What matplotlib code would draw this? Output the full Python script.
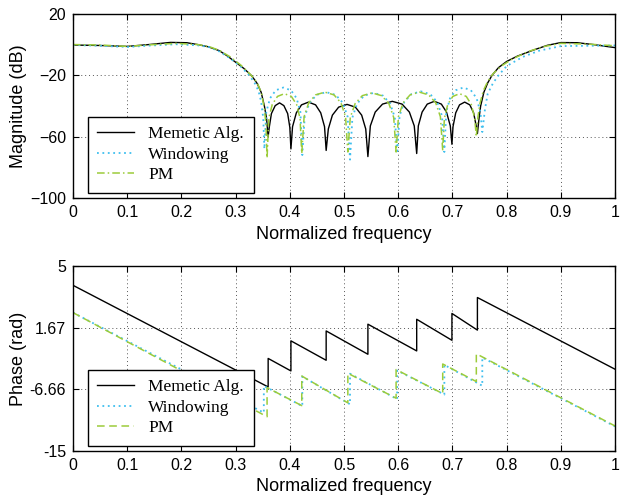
import numpy as np
import matplotlib
matplotlib.use('Agg')
import matplotlib.pyplot as plt

plt.rcParams['font.family'] = ['Liberation Sans', 'DejaVu Sans']

# magnitude response (dB)
ma_f = [0, 0.05, 0.1, 0.14, 0.18, 0.21, 0.23, 0.25, 0.27, 0.285, 0.3, 0.315, 0.33, 0.34, 0.347, 0.353, 0.357,
        0.360, 0.362, 0.366, 0.373, 0.381, 0.389, 0.396, 0.400,
        0.402, 0.405, 0.412, 0.4215, 0.4345, 0.4475, 0.457, 0.464,
        0.467, 0.471, 0.4785, 0.490, 0.5055, 0.521, 0.5325, 0.540,
        0.544, 0.5485, 0.5575, 0.571, 0.589, 0.607, 0.6205, 0.6295,
        0.634, 0.637, 0.644, 0.6535, 0.6665, 0.6795, 0.689, 0.696,
        0.699, 0.701, 0.706, 0.713, 0.7225, 0.732, 0.739, 0.744,
        0.746, 0.749, 0.752, 0.758, 0.765, 0.773, 0.785, 0.80, 0.82, 0.85, 0.875, 0.9, 0.93, 0.96, 1.0]
ma_db = [-0.3, -0.6, -1.2, 0, 1.4, 1.2, 0, -1.5, -4, -7.5, -11.5, -15.5, -20.5, -25.5, -31, -40, -48,
         -60, -54, -45, -39.8, -38, -39.8, -45, -54,
         -68, -53.5, -44.5, -39.3, -37.5, -39.3, -44.5, -53.5,
         -69, -55, -46, -40.8, -39, -40.8, -46, -55,
         -73, -53, -44, -38.8, -37, -38.8, -44, -53,
         -71, -53, -44, -38.8, -37, -38.8, -44, -53,
         -65, -53.5, -44.5, -39.3, -37.5, -39.3, -44.5, -53.5,
         -58, -48, -40, -31, -25, -20, -15, -11, -7.5, -3.5, -0.5, 1.3, 1.2, 0, -2]

win_f = [0, 0.05, 0.1, 0.14, 0.19, 0.23, 0.25, 0.27, 0.29, 0.31, 0.325, 0.335, 0.342, 0.347, 0.351,
         0.353, 0.3565, 0.3635, 0.374, 0.388, 0.402, 0.4125, 0.4195,
         0.423, 0.4274, 0.4362, 0.4494, 0.467, 0.4846, 0.4978, 0.5066,
         0.511, 0.5154, 0.5241, 0.5371, 0.5545, 0.5719, 0.585, 0.5937,
         0.598, 0.6024, 0.6111, 0.6241, 0.6415, 0.6589, 0.672, 0.6807,
         0.685, 0.6885, 0.6955, 0.706, 0.720, 0.734, 0.7445, 0.7515,
         0.755, 0.760, 0.765, 0.775, 0.785, 0.80, 0.83, 0.86, 0.9, 0.95, 1.0]
win_db = [-0.3, -0.8, -1.6, -0.7, 0.2, -0.5, -1.5, -4.5, -9, -14.5, -20, -25, -30, -37, -48,
          -68, -44, -35, -29.8, -28, -29.8, -35, -44,
          -72, -47, -38, -32.8, -31, -32.8, -38, -47,
          -75, -47.5, -38.5, -33.3, -31.5, -33.3, -38.5, -47.5,
          -71, -46.5, -37.5, -32.3, -30.5, -32.3, -37.5, -46.5,
          -70, -44, -35, -29.8, -28, -29.8, -35, -44,
          -57, -42, -32, -25, -20, -14, -8, -4, -1, -0.8, -0.6]

pm_f = [0, 0.05, 0.1, 0.14, 0.19, 0.23, 0.25, 0.27, 0.29, 0.31, 0.33, 0.34, 0.348, 0.353, 0.356,
        0.358, 0.3612, 0.3676, 0.3772, 0.390, 0.4028, 0.4124, 0.4188,
        0.422, 0.4263, 0.4348, 0.4475, 0.4645, 0.4815, 0.4943, 0.5028,
        0.507, 0.5115, 0.5204, 0.5337, 0.5515, 0.5693, 0.5827, 0.5916,
        0.596, 0.6003, 0.6089, 0.6218, 0.639, 0.6562, 0.6691, 0.6777,
        0.682, 0.6851, 0.6913, 0.7006, 0.713, 0.7254, 0.7347, 0.7409,
        0.744, 0.747, 0.751, 0.757, 0.765, 0.775, 0.79, 0.81, 0.84, 0.87, 0.9, 0.95, 1.0]
pm_db = [0, -0.3, -1.2, -0.2, 0.8, 0, -1.2, -3.8, -8, -13.5, -20.5, -25, -32, -42, -52,
         -74, -48, -39, -33.8, -32, -33.8, -39, -48,
         -71, -47, -38, -32.8, -31, -32.8, -38, -47,
         -70, -47.5, -38.5, -33.3, -31.5, -33.3, -38.5, -47.5,
         -70, -47, -38, -32.8, -31, -32.8, -38, -47,
         -69, -48, -39, -33.8, -32, -33.8, -39, -48,
         -60, -47, -38, -30, -24, -19, -14, -9.5, -4.5, -1.2, 0.8, 0.3, -0.8]

# phase (axis units)
ph_ma_f = [0, 0.360, 0.360, 0.402, 0.402, 0.467, 0.467, 0.544, 0.544, 0.634, 0.634, 0.699, 0.699, 0.746, 0.746, 1.0]
ph_ma = [2.9, -8.08, -5.0, -6.35, -3.1, -5.2, -2.03, -4.55, -1.3, -4.19, -0.77, -3.04, -0.14, -1.94, 1.58, -6.17]
ph_win_f = [0, 0.352, 0.352, 0.423, 0.423, 0.511, 0.511, 0.598, 0.598, 0.685, 0.685, 0.755, 0.755, 1.0]
ph_win = [-0.05, -10.86, -7.97, -10.15, -6.95, -9.95, -6.65, -9.4, -6.3, -8.9, -5.7, -7.95, -4.9, -12.35]
ph_pm_f = [0, 0.358, 0.358, 0.422, 0.422, 0.507, 0.507, 0.596, 0.596, 0.682, 0.682, 0.744, 0.744, 1.0]
ph_pm = [-0.05, -11.3, -8.15, -10.1, -6.9, -9.8, -6.6, -9.3, -6.2, -8.8, -5.6, -7.5, -4.5, -12.3]

xticks = [0, 0.1, 0.2, 0.3, 0.4, 0.5, 0.6, 0.7, 0.8, 0.9, 1]
xlabels = ['0', '0.1', '0.2', '0.3', '0.4', '0.5', '0.6', '0.7', '0.8', '0.9', '1']
mag_ticks = [20, -20, -60, -100]
ph_ticks = [5, -1.67, -8.33, -15]
ph_labels = ['5', '1.67', '-6.66', '-15']

c_win = '#3fbfef'
c_pm = '#9ccc3a'

fig = plt.figure(figsize=(6.26, 4.99), dpi=100)
ax1 = fig.add_axes([0.1166, 0.6032, 0.866, 0.369])
ax2 = fig.add_axes([0.1166, 0.0962, 0.866, 0.371])


def style(ax):
    ax.set_xlim(0, 1)
    ax.set_xticks(xticks)
    ax.set_xticklabels(xlabels)
    ax.grid(True, color='#555555', linestyle=(0, (1, 3)), linewidth=0.7)
    ax.tick_params(direction='in', top=True, right=True, labelsize=11.5, length=4, pad=5)
    for s in ax.spines.values():
        s.set_linewidth(1.0)
    ax.set_xlabel('Normalized frequency', fontsize=13, labelpad=4)


ax1.plot(ma_f, ma_db, color='black', lw=1.0, label='Memetic Alg.')
ax1.plot(win_f, win_db, color=c_win, lw=1.3, linestyle=(0, (1, 2)), label='Windowing')
ax1.plot(pm_f, pm_db, color=c_pm, lw=1.1, linestyle=(0, (5, 2, 1, 2)), label='PM')
ax1.set_ylim(-100, 20)
ax1.set_yticks(mag_ticks)
ax1.set_ylabel('Magnitude (dB)', fontsize=13, labelpad=2)
style(ax1)

ax2.plot(ph_ma_f, ph_ma, color='black', lw=1.0, label='Memetic Alg.')
ax2.plot(ph_win_f, ph_win, color=c_win, lw=1.3, linestyle=(0, (1, 2)), label='Windowing')
ax2.plot(ph_pm_f, ph_pm, color=c_pm, lw=1.1, linestyle=(0, (5, 3)), label='PM')
ax2.set_ylim(-15, 5)
ax2.set_yticks(ph_ticks)
ax2.set_yticklabels(ph_labels)
ax2.set_ylabel('Phase (rad)', fontsize=13, labelpad=2)
style(ax2)

for ax in (ax1, ax2):
    leg = ax.legend(loc='lower left', bbox_to_anchor=(0.027, 0.028), borderaxespad=0,
                    prop={'family': 'Liberation Serif', 'size': 12.5}, fancybox=False,
                    edgecolor='black', framealpha=1, handlelength=2.1, handletextpad=0.85,
                    labelspacing=0.25, borderpad=0.55)
    leg.get_frame().set_linewidth(1.0)

fig.savefig('out.png', dpi=100)
